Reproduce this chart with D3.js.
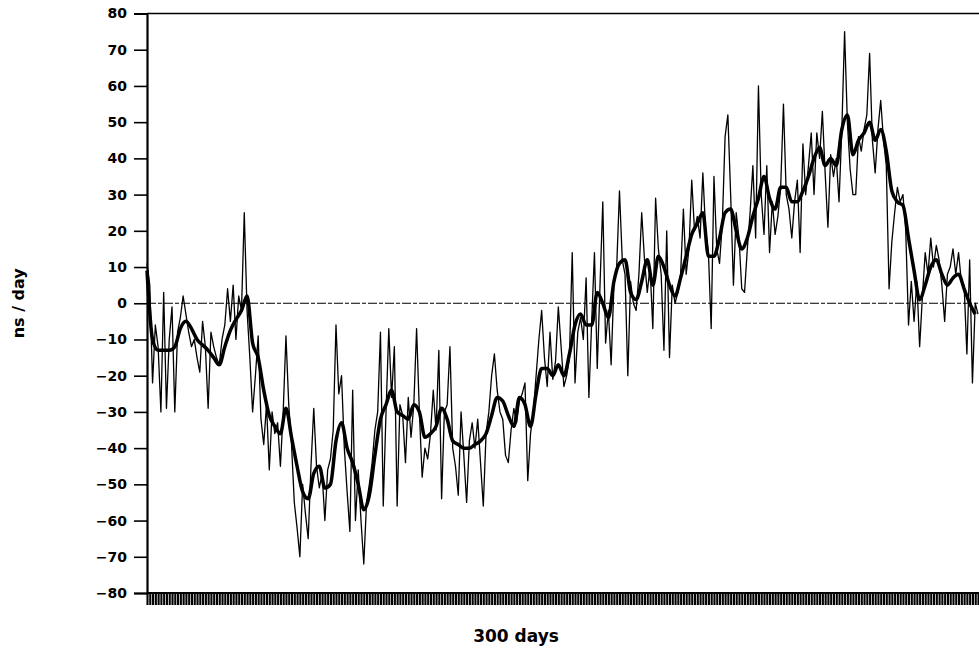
<!DOCTYPE html>
<html>
<head>
<meta charset="utf-8">
<script src="https://cdn.jsdelivr.net/npm/d3@7"></script>
<style>
  html, body { margin: 0; padding: 0; background: #fff; }
  svg { display: block; }
  text { font-family: "DejaVu Sans", "Liberation Sans", Arial, sans-serif; }
</style>
</head>
<body>
<svg id="chart" width="979" height="655"></svg>
<script>
// ---- data ----
const yTicks = [80, 70, 60, 50, 40, 30, 20, 10, 0, -10, -20, -30, -40, -50, -60, -70, -80];
const yLabel = "ns / day";
const xLabel = "300 days";
const dayCount = 300;

// daily values (thin line), one per day
const dailyValues = [
  11, 5, -22, -6, -12, -30, 3, -29, -10, -1,
  -30, -8, -4, 2, -3, -8, -12, -10, -15, -19,
  -5, -12, -29, -8, -12, -15, -17, -10, -6, 4,
  -5, 5, -10, 2, -2, 25, -2, -15, -30, -20,
  -9, -32, -39, -28, -46, -30, -36, -33, -45, -30,
  -9, -28, -39, -55, -62, -70, -50, -58, -65, -45,
  -29, -45, -51, -47, -60, -46, -43, -35, -6, -25,
  -20, -40, -52, -63, -24, -60, -46, -60, -72, -55,
  -50, -44, -35, -30, -8, -56, -30, -7, -26, -12,
  -56, -28, -31, -44, -26, -37, -28, -7, -30, -48,
  -40, -43, -36, -24, -35, -13, -54, -30, -28, -12,
  -40, -45, -53, -30, -42, -55, -38, -33, -40, -32,
  -44, -56, -36, -30, -20, -14, -24, -30, -32, -42,
  -44, -35, -29, -33, -27, -25, -22, -49, -36, -30,
  -20, -10, -2, -15, -23, -8, -21, -16, -1, -12,
  -23, -20, -15, 14, -22, -8, -4, -10, 7, -26,
  -5, 14, -18, 5, 28, -11, -2, -17, 5, 10,
  31, 12, 8, -20, 6, 0, -2, 8, 25, 12,
  3, 10, -7, 29, 15, 8, -13, 20, -15, 5,
  0, 3, 8, 26, 8, 15, 34, 20, 24, 18,
  36, 20, 14, -7, 35, 15, 11, 22, 46, 52,
  30, 5, 25, 18, 4, 3, 15, 25, 38, 18,
  60, 30, 19, 38, 14, 28, 19, 24, 32, 55,
  30, 26, 18, 28, 34, 14, 44, 30, 38, 47,
  30, 47, 40, 53, 36, 21, 41, 35, 40, 28,
  48, 75, 50, 37, 30, 30, 46, 42, 48, 52,
  69, 45, 36, 48, 56, 45, 38, 4, 17, 25,
  32, 28, 30, 20, -6, 6, -5, 6, -12, 2,
  14, 8, 18, 10, 16, 12, 5, -5, 8, 10,
  15, 8, 14, 6, 5, -14, 12, -22, 0, -3
];

// smoothed values (thick line), one every 2 days starting at day 0
const smoothStep = 2;
const smoothValues = [
  9, -10, -13, -13, -13, -12, -7, -5, -7, -10,
  -11.5, -13, -15, -17, -12, -7.5, -4.5, -2, 2, -11,
  -15, -24, -31, -34, -36, -29, -37, -45, -52, -54,
  -47, -45, -51, -50, -38, -33, -40, -44, -50, -57,
  -53, -42, -32, -28, -24, -30, -31, -32, -28, -30,
  -37, -36, -34, -29, -32, -38, -39, -40, -40, -39,
  -38, -36, -31, -26, -27, -31, -34, -26, -28, -34,
  -25, -18, -18, -20, -17, -20, -14, -6, -3, -6,
  -6, 3, 0, -4, 6, 11, 12, 3, 1, 6,
  12, 5, 13, 10, 5, 2, 7, 13, 19, 22,
  25, 13, 13, 18, 25, 26, 20, 15, 18, 24,
  29, 35, 29, 26, 32, 32, 28, 28, 31, 35,
  40, 43, 38, 40, 38, 48, 52, 41, 45, 47,
  50, 45, 48, 42, 31, 28, 27, 18, 9, 1,
  5, 10, 12, 8, 5, 7, 8, 4, 0, -3
];

// ---- chart ----
const svg = d3.select("#chart");
const x = d3.scaleLinear().domain([0, dayCount - 1]).range([147, 978]);
const y = d3.scaleLinear().domain([-80, 80]).range([593, 13.5]);

// top frame line
svg.append("line")
  .attr("x1", x(0)).attr("x2", 979)
  .attr("y1", y(80)).attr("y2", y(80))
  .attr("stroke", "#000").attr("stroke-width", 1.6);

// zero line (dashed)
svg.append("line")
  .attr("x1", x(0)).attr("x2", 979)
  .attr("y1", y(0)).attr("y2", y(0))
  .attr("stroke", "#000").attr("stroke-width", 1.1)
  .attr("stroke-dasharray", "9,2,4,2");

// y axis
const yAxis = d3.axisLeft(y)
  .tickValues(yTicks)
  .tickSize(13)
  .tickPadding(7)
  .tickFormat(d => d < 0 ? "\u2212" + Math.abs(d) : String(d));
const gy = svg.append("g").attr("transform", `translate(${x(0)},0)`).call(yAxis);
gy.select(".domain").attr("stroke-width", 2.2);
gy.selectAll(".tick line").attr("stroke-width", 1.6);
gy.selectAll(".tick text")
  .attr("font-size", 14).attr("font-weight", "bold")
  .attr("font-family", "'DejaVu Sans', sans-serif")
  .attr("fill", "#000");

// x axis with a tick for every day
const xAxis = d3.axisBottom(x)
  .tickValues(d3.range(0, dayCount))
  .tickSize(12)
  .tickFormat("");
const gx = svg.append("g").attr("transform", `translate(0,${y(-80)})`).call(xAxis);
gx.select(".domain").attr("stroke-width", 2).attr("d", `M${x(0)},0H979`);
gx.selectAll(".tick line").attr("stroke-width", 2.1).attr("stroke", "#000");

// thin daily line
const thin = d3.line().x((d, i) => x(i)).y(d => y(d));
svg.append("path")
  .datum(dailyValues)
  .attr("fill", "none").attr("stroke", "#000")
  .attr("stroke-width", 1.3).attr("stroke-linejoin", "round")
  .attr("d", thin);

// thick smoothed line
const thick = d3.line().x((d, i) => x(i * smoothStep)).y(d => y(d)).curve(d3.curveMonotoneX);
svg.append("path")
  .datum(smoothValues)
  .attr("fill", "none").attr("stroke", "#000")
  .attr("stroke-width", 3.5).attr("stroke-linejoin", "round")
  .attr("d", thick);

// axis titles
svg.append("text")
  .attr("transform", `translate(24,${y(0)}) rotate(-90)`)
  .attr("text-anchor", "middle")
  .attr("font-size", 16).attr("font-weight", "bold")
  .text(yLabel);

svg.append("text")
  .attr("x", 516).attr("y", 642)
  .attr("text-anchor", "middle")
  .attr("font-size", 17).attr("font-weight", "bold")
  .text(xLabel);
</script>
</body>
</html>
